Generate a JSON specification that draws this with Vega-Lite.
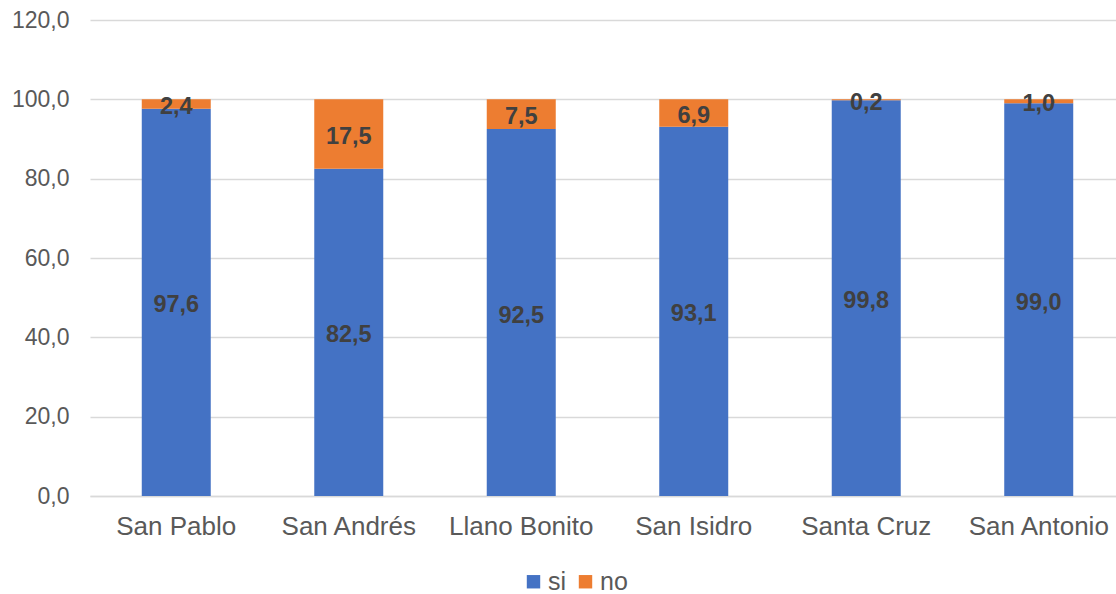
{
  "$schema": "https://vega.github.io/schema/vega-lite/v6.json",
  "width": 1026,
  "height": 476,
  "autosize": {"type": "none"},
  "padding": {"left": 90, "top": 20, "right": 0, "bottom": 98},
  "background": "white",
  "config": {
    "locale": {"number": {"decimal": ",", "thousands": ".", "grouping": [3], "currency": ["", ""]}},
    "view": {"stroke": null},
    "font": "Liberation Sans"
  },
  "data": {
    "values": [
      {"lugar": "San Pablo", "series": "si", "value": 97.6},
      {"lugar": "San Pablo", "series": "no", "value": 2.4},
      {"lugar": "San Andrés", "series": "si", "value": 82.5},
      {"lugar": "San Andrés", "series": "no", "value": 17.5},
      {"lugar": "Llano Bonito", "series": "si", "value": 92.5},
      {"lugar": "Llano Bonito", "series": "no", "value": 7.5},
      {"lugar": "San Isidro", "series": "si", "value": 93.1},
      {"lugar": "San Isidro", "series": "no", "value": 6.9},
      {"lugar": "Santa Cruz", "series": "si", "value": 99.8},
      {"lugar": "Santa Cruz", "series": "no", "value": 0.2},
      {"lugar": "San Antonio", "series": "si", "value": 99.0},
      {"lugar": "San Antonio", "series": "no", "value": 1.0}
    ]
  },
  "transform": [
    {"stack": "value", "groupby": ["lugar"], "sort": [{"field": "series", "order": "descending"}], "as": ["y0", "y1"]},
    {"calculate": "(datum.y0 + datum.y1) / 2", "as": "ymid"}
  ],
  "encoding": {
    "x": {
      "field": "lugar",
      "type": "nominal",
      "sort": null,
      "scale": {"paddingInner": 0.6, "paddingOuter": 0.274, "align": 0.5476},
      "axis": {
        "title": null,
        "labelAngle": 0,
        "labelFontSize": 26,
        "labelColor": "#595959",
        "labelPadding": 17,
        "labelOverlap": false,
        "labelBound": false,
        "ticks": false,
        "domainColor": "#D9D9D9",
        "domainWidth": 1.5
      }
    }
  },
  "layer": [
    {
      "mark": {"type": "bar"},
      "encoding": {
        "y": {
          "field": "y0",
          "type": "quantitative",
          "scale": {"domain": [0, 120]},
          "axis": {
            "title": null,
            "values": [0, 20, 40, 60, 80, 100, 120],
            "format": ".1f",
            "labelFontSize": 23,
            "labelColor": "#595959",
            "labelPadding": 21,
            "ticks": false,
            "domain": false,
            "gridColor": "#D9D9D9",
            "gridWidth": 1.5
          }
        },
        "y2": {"field": "y1"},
        "color": {
          "field": "series",
          "type": "nominal",
          "scale": {"domain": ["si", "no"], "range": ["#4472C4", "#ED7D31"]},
          "legend": {
            "title": null,
            "orient": "none",
            "legendX": 431,
            "legendY": 549,
            "padding": 0,
            "direction": "horizontal",
            "symbolType": "square",
            "symbolSize": 180,
            "symbolStrokeWidth": 0,
            "labelFontSize": 25,
            "labelColor": "#595959",
            "columnPadding": 6,
            "labelOffset": 2
          }
        }
      }
    },
    {
      "mark": {"type": "text", "fontSize": 23.5, "fontWeight": "bold", "color": "#404040", "baseline": "middle", "dy": 3},
      "encoding": {
        "y": {"field": "ymid", "type": "quantitative"},
        "text": {"field": "value", "type": "quantitative", "format": ".1f"}
      }
    }
  ]
}
